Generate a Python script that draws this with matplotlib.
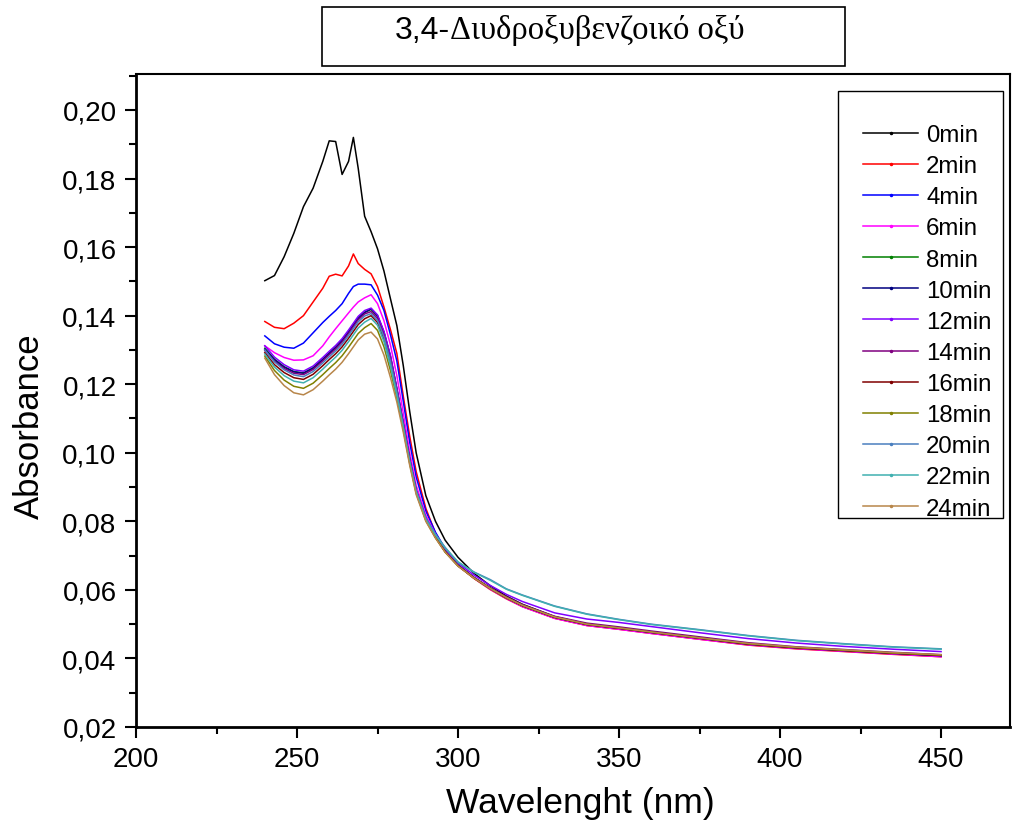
import matplotlib
matplotlib.use('Agg')
import matplotlib.pyplot as plt
from matplotlib.lines import Line2D
from matplotlib.patches import Rectangle
from matplotlib.ticker import MultipleLocator, FuncFormatter

# wavelength grid (nm), shared by every spectrum
wavelength = [240, 243, 246, 249, 252, 255, 258, 260, 262, 264, 266, 267.5, 269, 271, 273, 275, 277, 279,
              281, 283, 285, 287, 290, 293, 296, 300, 305, 310, 315, 320, 330, 340, 350, 360, 375, 390,
              405, 420, 435, 450]

labels = ['0min', '2min', '4min', '6min', '8min', '10min', '12min', '14min', '16min', '18min', '20min',
          '22min', '24min']
colors = ['#000000', '#ff0000', '#0000ff', '#ff00ff', '#008000', '#000080', '#8000ff', '#800080',
          '#800000', '#808000', '#4a7fbf', '#40b0b0', '#b8864a']

abs_0 = [0.1502, 0.1517, 0.1572, 0.1640, 0.1718, 0.1772, 0.1850, 0.1910, 0.1908, 0.1812, 0.1850, 0.1920,
         0.1830, 0.1690, 0.1645, 0.1595, 0.1530, 0.1450, 0.1371, 0.1254, 0.1120, 0.1000, 0.0875,
         0.0800, 0.0745, 0.0695, 0.0648, 0.0612, 0.0582, 0.0558, 0.0522, 0.0500, 0.0488, 0.0476, 0.0459,
         0.0442, 0.0431, 0.0423, 0.0416, 0.0410]
abs_2 = [0.1383, 0.1366, 0.1362, 0.1378, 0.1400, 0.1440, 0.1480, 0.1515, 0.1521, 0.1516, 0.1545, 0.1580,
         0.1552, 0.1535, 0.1522, 0.1485, 0.1425, 0.1360, 0.1290, 0.1165, 0.1048, 0.0945, 0.0838,
         0.0765, 0.0718, 0.0671, 0.0633, 0.0601, 0.0574, 0.0551, 0.0517, 0.0496, 0.0485, 0.0473, 0.0456,
         0.0439, 0.0428, 0.0420, 0.0412, 0.0405]
abs_4 = [0.1341, 0.1318, 0.1308, 0.1305, 0.1320, 0.1350, 0.1380, 0.1398, 0.1415, 0.1435, 0.1465, 0.1485,
         0.1492, 0.1492, 0.1490, 0.1460, 0.1415, 0.1345, 0.1268, 0.1150, 0.1030, 0.0930, 0.0830,
         0.0768, 0.0720, 0.0673, 0.0635, 0.0604, 0.0577, 0.0553, 0.0519, 0.0498, 0.0487, 0.0475, 0.0458,
         0.0441, 0.0430, 0.0422, 0.0414, 0.0408]
abs_6 = [0.1312, 0.1292, 0.1278, 0.1270, 0.1271, 0.1283, 0.1312, 0.1338, 0.1362, 0.1385, 0.1408, 0.1425,
         0.1440, 0.1452, 0.1461, 0.1435, 0.1385, 0.1315, 0.1225, 0.1115, 0.1000, 0.0905, 0.0818,
         0.0762, 0.0717, 0.0672, 0.0634, 0.0602, 0.0575, 0.0551, 0.0517, 0.0496, 0.0485, 0.0473, 0.0456,
         0.0440, 0.0429, 0.0421, 0.0413, 0.0405]
abs_8 = [0.1305, 0.1273, 0.1251, 0.1237, 0.1233, 0.1248, 0.1273, 0.1291, 0.1308, 0.1328, 0.1353, 0.1373,
         0.1393, 0.1410, 0.1418, 0.1398, 0.1350, 0.1280, 0.1185, 0.1085, 0.0980, 0.0890, 0.0808,
         0.0755, 0.0713, 0.0672, 0.0636, 0.0605, 0.0578, 0.0555, 0.0521, 0.0500, 0.0489, 0.0477, 0.0460,
         0.0443, 0.0432, 0.0424, 0.0416, 0.0409]
abs_10 = [0.1302, 0.1271, 0.1250, 0.1236, 0.1232, 0.1247, 0.1272, 0.1290, 0.1307, 0.1327, 0.1352, 0.1372,
          0.1392, 0.1409, 0.1420, 0.1400, 0.1352, 0.1282, 0.1187, 0.1086, 0.0981, 0.0890, 0.0808,
          0.0754, 0.0712, 0.0671, 0.0635, 0.0604, 0.0577, 0.0554, 0.0520, 0.0499, 0.0488, 0.0476, 0.0459,
          0.0442, 0.0431, 0.0423, 0.0415, 0.0408]
abs_12 = [0.1312, 0.1279, 0.1257, 0.1242, 0.1238, 0.1253, 0.1278, 0.1296, 0.1313, 0.1333, 0.1358, 0.1378,
          0.1398, 0.1415, 0.1422, 0.1402, 0.1354, 0.1284, 0.1188, 0.1087, 0.0982, 0.0892, 0.0810,
          0.0760, 0.0720, 0.0678, 0.0643, 0.0613, 0.0587, 0.0566, 0.0533, 0.0515, 0.0505, 0.0493, 0.0475,
          0.0458, 0.0445, 0.0435, 0.0427, 0.0420]
abs_14 = [0.1298, 0.1267, 0.1246, 0.1232, 0.1228, 0.1243, 0.1268, 0.1286, 0.1303, 0.1323, 0.1348, 0.1368,
          0.1388, 0.1405, 0.1412, 0.1392, 0.1344, 0.1274, 0.1182, 0.1082, 0.0978, 0.0888, 0.0806,
          0.0754, 0.0712, 0.0671, 0.0636, 0.0606, 0.0580, 0.0557, 0.0523, 0.0503, 0.0492, 0.0480, 0.0463,
          0.0446, 0.0434, 0.0426, 0.0418, 0.0411]
abs_16 = [0.1292, 0.1257, 0.1234, 0.1219, 0.1214, 0.1229, 0.1254, 0.1272, 0.1289, 0.1309, 0.1334, 0.1354,
          0.1374, 0.1391, 0.1400, 0.1380, 0.1332, 0.1262, 0.1172, 0.1076, 0.0974, 0.0886, 0.0805,
          0.0753, 0.0711, 0.0670, 0.0634, 0.0604, 0.0577, 0.0554, 0.0520, 0.0499, 0.0488, 0.0476, 0.0459,
          0.0442, 0.0431, 0.0423, 0.0415, 0.0409]
abs_18 = [0.1282, 0.1240, 0.1212, 0.1194, 0.1188, 0.1203, 0.1228, 0.1246, 0.1263, 0.1283, 0.1308, 0.1328,
          0.1348, 0.1365, 0.1377, 0.1357, 0.1309, 0.1240, 0.1160, 0.1068, 0.0968, 0.0882, 0.0802,
          0.0752, 0.0710, 0.0670, 0.0634, 0.0604, 0.0577, 0.0555, 0.0521, 0.0500, 0.0489, 0.0477, 0.0460,
          0.0443, 0.0432, 0.0424, 0.0416, 0.0410]
abs_20 = [0.1300, 0.1265, 0.1242, 0.1227, 0.1222, 0.1237, 0.1262, 0.1280, 0.1297, 0.1317, 0.1342, 0.1362,
          0.1382, 0.1399, 0.1406, 0.1386, 0.1338, 0.1268, 0.1178, 0.1080, 0.0978, 0.0890, 0.0810,
          0.0762, 0.0724, 0.0680, 0.0652, 0.0630, 0.0603, 0.0585, 0.0553, 0.0530, 0.0514, 0.0500, 0.0484,
          0.0467, 0.0453, 0.0443, 0.0434, 0.0428]
abs_22 = [0.1288, 0.1250, 0.1225, 0.1209, 0.1204, 0.1219, 0.1244, 0.1262, 0.1279, 0.1299, 0.1324, 0.1344,
          0.1364, 0.1381, 0.1392, 0.1372, 0.1324, 0.1254, 0.1167, 0.1072, 0.0971, 0.0885, 0.0804,
          0.0760, 0.0722, 0.0682, 0.0651, 0.0628, 0.0602, 0.0584, 0.0552, 0.0529, 0.0513, 0.0499, 0.0483,
          0.0466, 0.0452, 0.0442, 0.0433, 0.0427]
abs_24 = [0.1276, 0.1228, 0.1196, 0.1175, 0.1169, 0.1184, 0.1209, 0.1227, 0.1244, 0.1264, 0.1289, 0.1309,
          0.1329, 0.1346, 0.1352, 0.1332, 0.1285, 0.1220, 0.1148, 0.1060, 0.0963, 0.0878, 0.0800,
          0.0751, 0.0710, 0.0669, 0.0634, 0.0604, 0.0578, 0.0555, 0.0521, 0.0500, 0.0489, 0.0477, 0.0460,
          0.0444, 0.0433, 0.0425, 0.0417, 0.0411]

spectra = [abs_0, abs_2, abs_4, abs_6, abs_8, abs_10, abs_12, abs_14, abs_16, abs_18, abs_20, abs_22, abs_24]


def px_x(px):
    return px / 1014.0


def px_y(py):
    return 1 - py / 837.0


def main():
    plt.rcParams['font.family'] = ['Liberation Sans', 'DejaVu Sans']
    fig = plt.figure(figsize=(10.14, 8.37), dpi=100)
    ax = fig.add_axes([px_x(136), px_y(728), px_x(1010) - px_x(136), px_y(75) - px_y(728)])

    handles = []
    for i in range(len(spectra)):
        ax.plot(wavelength, spectra[i], color=colors[i], lw=1.1)
        # legend entry: line with a small dot in the middle
        handles.append(Line2D([], [], color=colors[i], lw=1.1, marker='.', markersize=3, label=labels[i]))

    ax.set_xlim(200, 471.4)
    ax.set_ylim(0.02, 0.2105)
    ax.xaxis.set_major_locator(MultipleLocator(50))
    ax.xaxis.set_minor_locator(MultipleLocator(25))
    ax.yaxis.set_major_locator(MultipleLocator(0.02))
    ax.yaxis.set_minor_locator(MultipleLocator(0.01))
    ax.yaxis.set_major_formatter(FuncFormatter(lambda v, p: ('%.2f' % v).replace('.', ',')))
    ax.tick_params(which='major', direction='out', length=8, width=1.5, labelsize=20, pad=6)
    ax.tick_params(which='minor', direction='out', length=5, width=1.5)
    ax.tick_params(top=False, right=False)
    for s in ['left', 'bottom']:
        ax.spines[s].set_linewidth(2.0)
    for s in ['top', 'right']:
        ax.spines[s].set_linewidth(1.5)

    ax.set_xlabel('Wavelenght (nm)', fontsize=25.5, labelpad=10)
    ax.set_ylabel('Absorbance', fontsize=25, labelpad=12)
    ax.xaxis.label.set_x(0.508)
    ax.yaxis.label.set_y(0.4625)

    # legend without frame, the frame is drawn as a separate box
    fig.legend(handles=handles, loc='upper left', bbox_to_anchor=(px_x(851), px_y(113)),
               bbox_transform=fig.transFigure, frameon=False, fontsize=17.3, borderpad=0,
               handlelength=2.3, handletextpad=0.33, labelspacing=0.38)
    fig.patches.append(Rectangle((px_x(838), px_y(519)), px_x(1003) - px_x(838), px_y(92) - px_y(519),
                                 transform=fig.transFigure, fill=False, ec='black', lw=1.0))

    # title box
    fig.patches.append(Rectangle((px_x(322), px_y(67)), px_x(845) - px_x(322), px_y(8) - px_y(67),
                                 transform=fig.transFigure, fill=False, ec='black', lw=1.2))
    fig.text(px_x(450), px_y(39), '3,4-', ha='right', va='baseline', fontsize=23,
             family=['Liberation Sans', 'DejaVu Sans'])
    fig.text(px_x(450), px_y(39), 'Διυδροξυβενζοικό οξύ', ha='left', va='baseline', fontsize=23.5,
             family=['Liberation Serif', 'DejaVu Serif'])

    fig.savefig('out.png', dpi=100)


if __name__ == "__main__":
    main()
